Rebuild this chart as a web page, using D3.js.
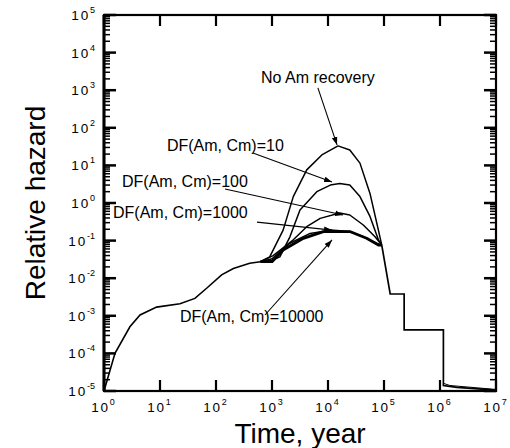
<!DOCTYPE html>
<html>
<head>
<meta charset="utf-8">
<script src="https://cdn.jsdelivr.net/npm/d3@7"></script>
<style>
  html, body { margin: 0; padding: 0; background: #fff; }
  svg { display: block; font-family: "Liberation Sans", Arial, Helvetica, sans-serif; }
</style>
</head>
<body>
<svg id="chart" width="510" height="448"></svg>
<script>
// ---------------- data ----------------
const xTickExps = [0, 1, 2, 3, 4, 5, 6, 7];
const yTickExps = [-5, -4, -3, -2, -1, 0, 1, 2, 3, 4, 5];

// shared early part (time in years, relative hazard)
const baseT = [1, 1.57, 2.9, 4.4, 8.7, 22.7, 42, 68, 126, 204, 400, 620];
const baseH = [1e-5, 1.0e-4, 5.1e-4, 1.05e-3, 1.7e-3, 2.1e-3, 2.9e-3, 5.4e-3, 1.23e-2, 1.8e-2, 2.5e-2, 2.75e-2];

// individual parts
const noAmT = [620, 910, 1580, 2400, 4170, 7760, 15100, 24500, 37200, 56200, 79400];
const noAmH = [0.0275, 0.037, 0.19, 1.48, 7.6, 19, 33, 25.7, 11.5, 1.8, 0.19];
const df10T = [620, 1000, 1380, 2090, 3160, 6310, 11000, 16200, 24500, 37200, 56200, 79400];
const df10H = [0.0275, 0.03, 0.037, 0.126, 0.65, 2.0, 3.0, 3.3, 3.0, 1.48, 0.44, 0.105];
const df100T = [620, 1050, 2400, 4170, 7240, 16200, 24500, 42700, 69200];
const df100H = [0.0275, 0.04, 0.105, 0.234, 0.39, 0.54, 0.48, 0.26, 0.126];
const df1000T = [620, 1000, 2090, 4790, 11000, 24500, 42700, 74100];
const df1000H = [0.0275, 0.033, 0.085, 0.155, 0.19, 0.174, 0.126, 0.085];
const df10000T = [620, 1000, 1580, 3630, 8300, 24500, 49000, 79400];
const df10000H = [0.0275, 0.0275, 0.056, 0.115, 0.174, 0.174, 0.115, 0.076];

// shared late part (after convergence)
const tailT = [91200, 129000, 229000, 229000, 1.15e6, 1.15e6, 2.0e6, 1e7];
const tailH = [0.076, 0.0038, 0.0038, 4.2e-4, 4.2e-4, 1.4e-5, 1.25e-5, 1.05e-5];
const tail2T = [1.15e6, 1.5e6, 1e7];
const tail2H = [1.6e-5, 1.4e-5, 1.1e-5];

// small initial step
const stepT = [1, 1, 1.55];
const stepH = [1e-5, 1e-4, 1e-4];

// annotations: label, text position, arrow start, arrow end (data coords)
const annLabels = ["No Am recovery", "DF(Am, Cm)=10", "DF(Am, Cm)=100", "DF(Am, Cm)=1000", "DF(Am, Cm)=10000"];
const annAnchor = ["middle", "start", "start", "start", "start"];
const annTextT = [6600, 13.3, 2.1, 1.45, 22.7];
const annTextH = [1550, 24, 2.66, 0.4, 6.9e-4];
const annFromT = [6600, 457, 145, 540, 750];
const annFromH = [1150, 21.4, 2.36, 0.31, 1.05e-3];
const annToT = [14500, 11800, 18600, 11800, 11800];
const annToH = [35, 3.6, 0.48, 0.19, 0.104];

// ---------------- chart ----------------
const svg = d3.select("#chart");
const L = 104, R = 496, T = 15, B = 391;
const x = d3.scaleLog().domain([1, 1e7]).range([L, R]);
const y = d3.scaleLog().domain([1e-5, 1e5]).range([B, T]);

const zip = (ts, hs) => ts.map((t, i) => [t, hs[i]]);
const line = d3.line().x(d => x(d[0])).y(d => y(d[1]));

svg.append("defs").append("marker")
  .attr("id", "arr").attr("viewBox", "0 0 10 10").attr("refX", 10).attr("refY", 5)
  .attr("markerWidth", 8).attr("markerHeight", 8).attr("markerUnits", "userSpaceOnUse")
  .attr("orient", "auto")
  .append("path").attr("d", "M0,1.5 L10,5 L0,8.5 z").attr("fill", "#000");

const g = svg.append("g");

// curves
g.append("path").datum(zip(baseT, baseH)).attr("d", line)
  .attr("fill", "none").attr("stroke", "#000").attr("stroke-width", 1.6);
g.append("path").datum(zip(stepT, stepH)).attr("d", line)
  .attr("fill", "none").attr("stroke", "#000").attr("stroke-width", 1);
const series = [
  [noAmT, noAmH, 1.5], [df10T, df10H, 1.5], [df100T, df100H, 1.5],
  [df1000T, df1000H, 1.5], [df10000T, df10000H, 2.8]
];
series.forEach(([ts, hs, w]) => {
  const pts = zip(ts, hs).concat([[tailT[0], tailH[0]]]);
  g.append("path").datum(pts).attr("d", line)
    .attr("fill", "none").attr("stroke", "#000").attr("stroke-width", w)
    .attr("stroke-linejoin", "round");
});
g.append("path").datum(zip(tailT, tailH)).attr("d", line)
  .attr("fill", "none").attr("stroke", "#000").attr("stroke-width", 1.7);
g.append("path").datum(zip(tail2T, tail2H)).attr("d", line)
  .attr("fill", "none").attr("stroke", "#000").attr("stroke-width", 1);

// frame
svg.append("rect").attr("x", L).attr("y", T).attr("width", R - L).attr("height", B - T)
  .attr("fill", "none").attr("stroke", "#000").attr("stroke-width", 2.2);
svg.append("line").attr("x1", L).attr("x2", L).attr("y1", T).attr("y2", B)
  .attr("stroke", "#000").attr("stroke-width", 3);

// ticks (inward), positioned with the scales
const yMinor = [];
yTickExps.slice(0, -1).forEach(e => { for (let k = 2; k <= 9; k++) yMinor.push(k * Math.pow(10, e)); });
const yMaj = yTickExps.map(e => Math.pow(10, e));
const xMaj = xTickExps.map(e => Math.pow(10, e));
const tk = svg.append("g").attr("stroke", "#000");
[[L, 1], [R, -1]].forEach(([x0, dir]) => {
  tk.append("g").selectAll("line").data(yMinor).join("line")
    .attr("x1", x0).attr("x2", x0 + dir * 6)
    .attr("y1", d => y(d)).attr("y2", d => y(d)).attr("stroke-width", 1.5);
  tk.append("g").selectAll("line").data(yMaj).join("line")
    .attr("x1", x0).attr("x2", x0 + dir * 12)
    .attr("y1", d => y(d)).attr("y2", d => y(d)).attr("stroke-width", 2.5);
});
[[B, -1], [T, 1]].forEach(([y0, dir]) => {
  tk.append("g").selectAll("line").data(xMaj).join("line")
    .attr("y1", y0).attr("y2", y0 + dir * 11)
    .attr("x1", d => x(d)).attr("x2", d => x(d)).attr("stroke-width", 2.2);
});

// tick labels
const yl = svg.append("g");
yTickExps.forEach(e => {
  const t = yl.append("text").attr("x", 95).attr("y", y(Math.pow(10, e)) + 5)
    .attr("text-anchor", "end").attr("font-size", 13.5).attr("letter-spacing", 1.8);
  t.append("tspan").text("10");
  t.append("tspan").attr("dy", -7).attr("font-size", 9).attr("letter-spacing", 0).text(String(e));
});
const xl = svg.append("g");
xTickExps.forEach(e => {
  const t = xl.append("text").attr("x", x(Math.pow(10, e)) - 1).attr("y", B + 21)
    .attr("text-anchor", "middle").attr("font-size", 13.5).attr("letter-spacing", 1.8);
  t.append("tspan").text("10");
  t.append("tspan").attr("dy", -7).attr("font-size", 9).attr("letter-spacing", 0).text(String(e));
});

// axis titles
svg.append("text").attr("x", (L + R) / 2).attr("y", 443).attr("text-anchor", "middle")
  .attr("font-size", 28).text("Time, year");
svg.append("text").attr("transform", `translate(45,${(T + B) / 2}) rotate(-90)`)
  .attr("text-anchor", "middle").attr("font-size", 28).text("Relative hazard");

// annotations
annLabels.forEach((lab, i) => {
  svg.append("text").attr("x", x(annTextT[i])).attr("y", y(annTextH[i]))
    .attr("text-anchor", annAnchor[i]).attr("font-size", 16).text(lab);
  svg.append("line")
    .attr("x1", x(annFromT[i])).attr("y1", y(annFromH[i]))
    .attr("x2", x(annToT[i])).attr("y2", y(annToH[i]))
    .attr("stroke", "#000").attr("stroke-width", 1.1).attr("marker-end", "url(#arr)");
});
</script>
</body>
</html>
